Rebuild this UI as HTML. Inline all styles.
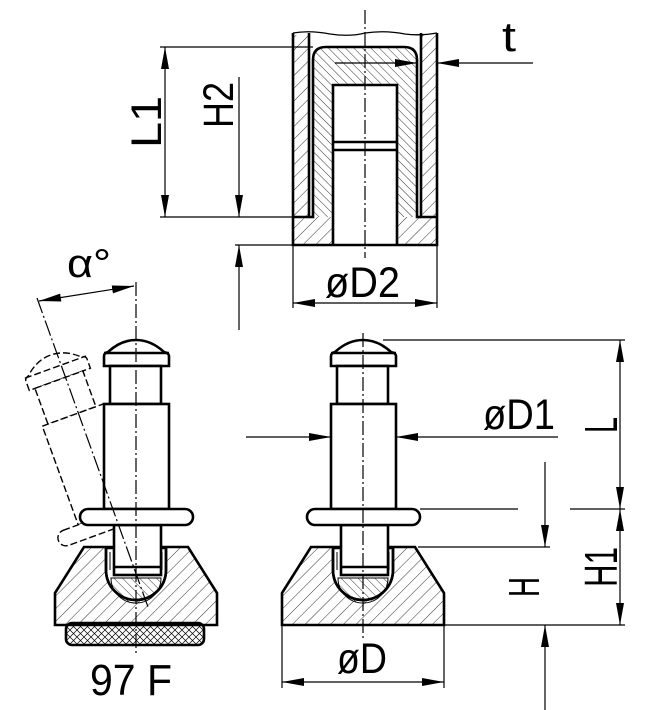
<!DOCTYPE html>
<html><head><meta charset="utf-8"><style>
html,body{margin:0;padding:0;background:#fff;}
svg{display:block;}
text{font-family:"Liberation Sans",sans-serif;fill:#000;}
</style></head><body>
<svg width="645" height="710" viewBox="0 0 645 710" xmlns="http://www.w3.org/2000/svg">
<defs>
<pattern id="h1" patternUnits="userSpaceOnUse" width="9" height="9" patternTransform="rotate(45)"><line x1="0" y1="0" x2="0" y2="9" stroke="#000" stroke-width="0.8"/></pattern>
<pattern id="h2" patternUnits="userSpaceOnUse" width="6" height="6" patternTransform="rotate(-45)"><line x1="0" y1="0" x2="0" y2="6" stroke="#000" stroke-width="0.8"/></pattern>
<pattern id="hx" patternUnits="userSpaceOnUse" width="7" height="7"><path d="M0,0L7,7M7,0L0,7" stroke="#000" stroke-width="0.7"/></pattern>
<marker id="a" markerWidth="24" markerHeight="10" refX="22" refY="5" orient="auto" markerUnits="userSpaceOnUse"><path d="M0,1 L22,5 L0,9 Z" fill="#000"/></marker>
<marker id="b" markerWidth="24" markerHeight="10" refX="0" refY="5" orient="auto" markerUnits="userSpaceOnUse"><path d="M22,1 L0,5 L22,9 Z" fill="#000"/></marker>
<g id="pin">
<path d="M331,366 L331,356 Q331,353 335,352 Q348,340 363,340 Q378,340 391,352 Q396,353 396,356 L396,366 Z" fill="#fff"/>
<line x1="331" y1="353" x2="396" y2="353"/>
<rect x="337" y="366" width="51" height="38" fill="#fff"/>
<rect x="331" y="404" width="65" height="105" fill="#fff"/>
<rect x="307" y="509" width="113" height="16" rx="8" fill="#fff"/>
</g>
<g id="foot">
<path d="M311,547 L415,547 L444,593 L444,625 L282,625 L282,593 Z" fill="url(#h1)"/>
<path d="M333,548 L333,570 A30,30 0 0 0 393,570 L393,548 Z" fill="#fff"/>
<path d="M338,578 A25,25 0 0 0 388,578 Z" fill="url(#h2)" stroke-width="1"/>
<path d="M333,548 L333,570 A30,30 0 0 0 393,570 L393,548"/>
<rect x="341" y="525" width="47" height="50" fill="#fff"/>
<line x1="341" y1="567" x2="388" y2="567"/>
<path d="M337,552 L337,570 M389,552 L389,570" stroke-width="1"/>
</g>
</defs>

<g fill="none" stroke="#000" stroke-width="2.6">
<rect x="293" y="35" width="16" height="182" fill="url(#h1)" stroke="none"/>
<rect x="421" y="35" width="16" height="182" fill="url(#h1)" stroke="none"/>
<path d="M313,217 L313,60 Q313,47 326,47 L404,47 Q417,47 417,60 L417,217 L397,217 L397,85 L333,85 L333,217 Z" fill="url(#h2)" stroke="none"/>
<rect x="293" y="217" width="144" height="28" fill="url(#h1)" stroke="none"/>
<rect x="333" y="217" width="64" height="28" fill="#fff" stroke="none"/>
<path d="M293,33 Q310,30 330,34 Q350,37 365,33 Q385,30 405,34 Q420,36 437,33" stroke-width="1.3"/>
<path d="M293,33 L293,245 L437,245 L437,33"/>
<path d="M309,33 L309,217 L293,217 M421,33 L421,217 L437,217"/>
<path d="M309,217 L313,217 L313,60 Q313,47 326,47 L404,47 Q417,47 417,60 L417,217 L421,217"/>
<path d="M333,245 L333,85 L397,85 L397,245"/>
<path d="M333,142 L397,142 M333,150 L397,150"/>
<line x1="365" y1="10" x2="365" y2="258" stroke-width="1.2" stroke-dasharray="14,3,2,3"/>
<line x1="335" y1="63" x2="417" y2="63" stroke-width="1.2" marker-end="url(#a)"/>
<line x1="533" y1="63" x2="437" y2="63" stroke-width="1.2" marker-end="url(#a)"/>
<path d="M160,47 L313,47 M160,217 L293,217" stroke-width="1.2"/>
<line x1="165" y1="47" x2="165" y2="217" stroke-width="1.2" marker-start="url(#b)" marker-end="url(#a)"/>
<line x1="239" y1="77" x2="239" y2="217" stroke-width="1.2" marker-end="url(#a)"/>
<path d="M235,245 L293,245" stroke-width="1.2"/>
<line x1="239" y1="330" x2="239" y2="245" stroke-width="1.2" marker-end="url(#a)"/>
<path d="M293,245 L293,308 M437,245 L437,308" stroke-width="1.2"/>
<line x1="293" y1="303" x2="437" y2="303" stroke-width="1.2" marker-start="url(#b)" marker-end="url(#a)"/>

<use href="#foot"/>
<use href="#pin"/>
<line x1="363" y1="333" x2="363" y2="640" stroke-width="1.2" stroke-dasharray="14,3,2,3"/>
<line x1="246" y1="437" x2="331" y2="437" stroke-width="1.2" marker-end="url(#a)"/>
<line x1="558" y1="437" x2="396" y2="437" stroke-width="1.2" marker-end="url(#a)"/>
<path d="M383,340 L625,340 M420,509 L518,509 M570,509 L625,509 M444,625 L625,625 M418,547 L550,547" stroke-width="1.2"/>
<line x1="620" y1="340" x2="620" y2="509" stroke-width="1.2" marker-start="url(#b)" marker-end="url(#a)"/>
<line x1="620" y1="509" x2="620" y2="625" stroke-width="1.2" marker-start="url(#b)" marker-end="url(#a)"/>
<line x1="545" y1="462" x2="545" y2="547" stroke-width="1.2" marker-end="url(#a)"/>
<line x1="545" y1="710" x2="545" y2="625" stroke-width="1.2" marker-end="url(#a)"/>
<path d="M282,625 L282,688 M444,625 L444,688" stroke-width="1.2"/>
<line x1="282" y1="682" x2="444" y2="682" stroke-width="1.2" marker-start="url(#b)" marker-end="url(#a)"/>

<g transform="rotate(-20 136 590)" stroke-dasharray="7,3" stroke-width="1.4">
<use href="#pin" transform="translate(-227,0)"/>
</g>
<use href="#foot" transform="translate(-227,0)"/>
<use href="#pin" transform="translate(-227,0)"/>
<rect x="66" y="623" width="138" height="22" rx="6" fill="url(#hx)"/>
<line x1="136" y1="282" x2="136" y2="656" stroke-width="1.2" stroke-dasharray="14,3,2,3"/>
<line x1="37" y1="298" x2="148" y2="607" stroke-width="1.2" stroke-dasharray="16,3,2,3"/>
<line x1="39" y1="301" x2="134" y2="286" stroke-width="1.2" marker-start="url(#b)" marker-end="url(#a)"/>
</g>

<text x="502" y="51" font-size="42" textLength="14" lengthAdjust="spacingAndGlyphs">t</text>
<text transform="translate(161,122) rotate(-90)" font-size="43" text-anchor="middle" textLength="52" lengthAdjust="spacingAndGlyphs">L1</text>
<text transform="translate(233,105) rotate(-90)" font-size="43" text-anchor="middle" textLength="46" lengthAdjust="spacingAndGlyphs">H2</text>
<text x="325" y="297" font-size="43" textLength="75" lengthAdjust="spacingAndGlyphs">øD2</text>
<text x="483" y="429" font-size="43" textLength="72" lengthAdjust="spacingAndGlyphs">øD1</text>
<text transform="translate(617,425) rotate(-90)" font-size="46" text-anchor="middle" textLength="16" lengthAdjust="spacingAndGlyphs">L</text>
<text transform="translate(617,567) rotate(-90)" font-size="46" text-anchor="middle" textLength="40" lengthAdjust="spacingAndGlyphs">H1</text>
<text transform="translate(539,587) rotate(-90)" font-size="44" text-anchor="middle" textLength="20" lengthAdjust="spacingAndGlyphs">H</text>
<text x="337" y="673" font-size="43" textLength="50" lengthAdjust="spacingAndGlyphs">øD</text>
<text x="67" y="277" font-size="40" font-family="Liberation Serif,serif" textLength="44" lengthAdjust="spacingAndGlyphs">α°</text>
<text x="90" y="695" font-size="44" textLength="82" lengthAdjust="spacingAndGlyphs">97 F</text>
</svg>
</body></html>
